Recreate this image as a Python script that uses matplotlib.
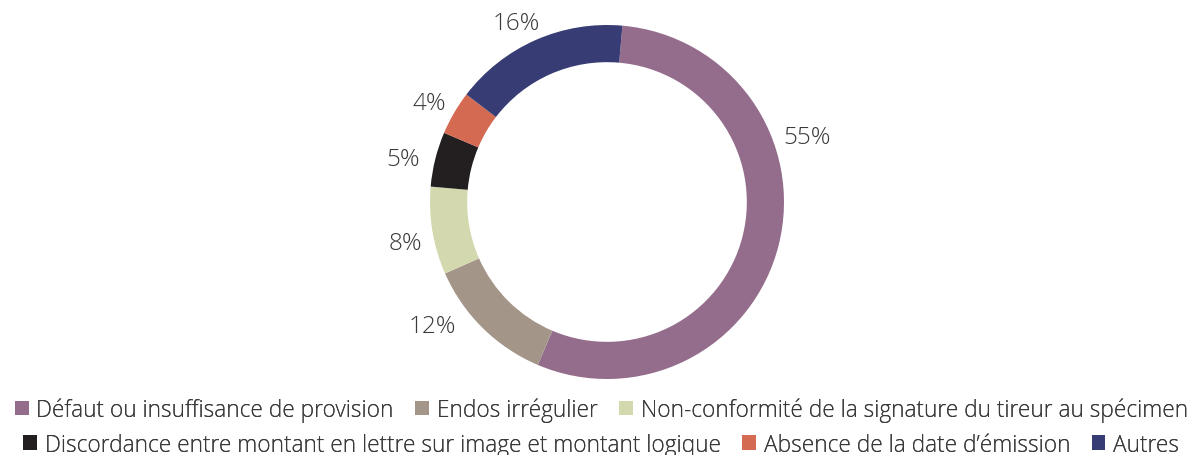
import numpy as np
import matplotlib.pyplot as plt
from matplotlib.patches import Patch

plt.rcParams["font.family"] = ["Open Sans", "DejaVu Sans"]

# categories and shares (%)
categories = [
    "Défaut ou insuffisance de provision",
    "Endos irrégulier",
    "Non-conformité de la signature du tireur au spécimen",
    "Discordance entre montant en lettre sur image et montant logique",
    "Absence de la date d’émission",
    "Autres",
]
shares = [55, 12, 8, 5, 4, 16]
pct_labels = ["55%", "12%", "8%", "5%", "4%", "16%"]
colors = ["#956D8C", "#A39587", "#D4D8AE", "#231F20", "#D46A52", "#373C74"]

# label nudges (degrees) to mimic the original placement
label_shift = [32, -10, 2, 2, 1, 3]
label_dist = [1.19, 1.21, 1.16, 1.18, 1.15, 1.13]

text_col = "#3a3a3a"

fig = plt.figure(figsize=(11.98, 4.56), dpi=100)
R_px = 177
lim = 1.3
side = 2 * lim * R_px
cx, cy = 607, 456 - 203
ax = fig.add_axes([(cx - side / 2) / 1198, (cy - side / 2) / 456, side / 1198, side / 456])
ax.axis("off")

start = 85
wedges, _ = ax.pie(shares, colors=colors, startangle=start, counterclock=False,
                   radius=1, wedgeprops=dict(width=0.21, linewidth=0))
ax.set_xlim(-lim, lim)
ax.set_ylim(-lim, lim)

for w, lab, sh, d in zip(wedges, pct_labels, label_shift, label_dist):
    mid = (w.theta1 + w.theta2) / 2 + sh
    x, y = d * np.cos(np.radians(mid)), d * np.sin(np.radians(mid))
    ax.text(x, y, lab, ha="center", va="center", fontsize=17.5, color=text_col,
            fontweight="light", clip_on=False)

handles = [Patch(facecolor=c, edgecolor="none") for c in colors]
for row, yy in ((0, 0.099), (1, 0.023)):
    h = handles[row * 3:row * 3 + 3]
    l = categories[row * 3:row * 3 + 3]
    leg = fig.legend(h, l, loc="center", bbox_to_anchor=(0.502, yy), ncol=3, frameon=False,
                     prop=dict(size=16.3, weight="light"), handlelength=0.6, handleheight=0.6,
                     handletextpad=0.35, columnspacing=0.95, borderaxespad=0, borderpad=0,
                     labelcolor=text_col)
    fig.add_artist(leg)

fig.savefig("out.png", dpi=100)
